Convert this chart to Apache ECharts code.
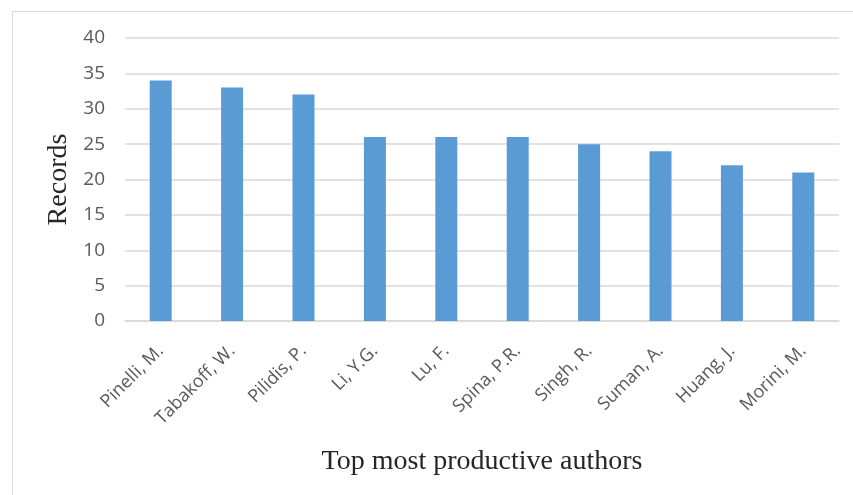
<!DOCTYPE html>
<html>
<head>
<meta charset="utf-8">
<script src="https://cdn.jsdelivr.net/npm/echarts@6/dist/echarts.min.js"></script>
<style>html,body{margin:0;padding:0;background:#fff;}#c{width:853px;height:495px;}</style>
</head>
<body>
<div id="c"></div>
<script>
const categories = ["Pinelli, M.", "Tabakoff, W.", "Pilidis, P.", "Li, Y.G.", "Lu, F.", "Spina, P.R.", "Singh, R.", "Suman, A.", "Huang, J.", "Morini, M."];
const records = [34, 33, 32, 26, 26, 26, 25, 24, 22, 21];
const yTicks = {min: 0, max: 40, interval: 5};
const xTitle = "Top most productive authors";
const yTitle = "Records";

const chart = echarts.init(document.getElementById('c'));
chart.setOption({
  animation: false,
  backgroundColor: '#fff',
  graphic: [{
    type: 'rect', shape: {x: 12.5, y: 11.5, width: 860, height: 500},
    style: {fill: 'none', stroke: '#d9d9d9', lineWidth: 1}, silent: true, z: -1
  }],
  grid: {left: 125, right: 14, top: 38, bottom: 174, containLabel: false},
  xAxis: {
    type: 'category', data: categories,
    axisLine: {show: true, lineStyle: {color: '#d9d9d9', width: 1.5}},
    axisTick: {show: false},
    axisLabel: {rotate: 45, color: '#595959', fontFamily: 'Open Sans', fontSize: 18, margin: 27, interval: 0},
    name: xTitle, nameLocation: 'middle', nameGap: 127,
    nameTextStyle: {fontFamily: 'Liberation Serif', fontSize: 28, color: '#262626'}
  },
  yAxis: {
    type: 'value', min: yTicks.min, max: yTicks.max, interval: yTicks.interval,
    axisLine: {show: false}, axisTick: {show: false},
    splitLine: {lineStyle: {color: '#d9d9d9', width: 1.5}},
    axisLabel: {color: '#595959', fontFamily: 'Open Sans', fontSize: 19, margin: 20},
    name: yTitle, nameLocation: 'middle', nameGap: 47,
    nameTextStyle: {fontFamily: 'Liberation Serif', fontSize: 28, color: '#262626'}
  },
  series: [{
    type: 'bar', data: records, barWidth: 22,
    itemStyle: {color: '#5b9bd5'}
  }]
});
</script>
</body>
</html>
